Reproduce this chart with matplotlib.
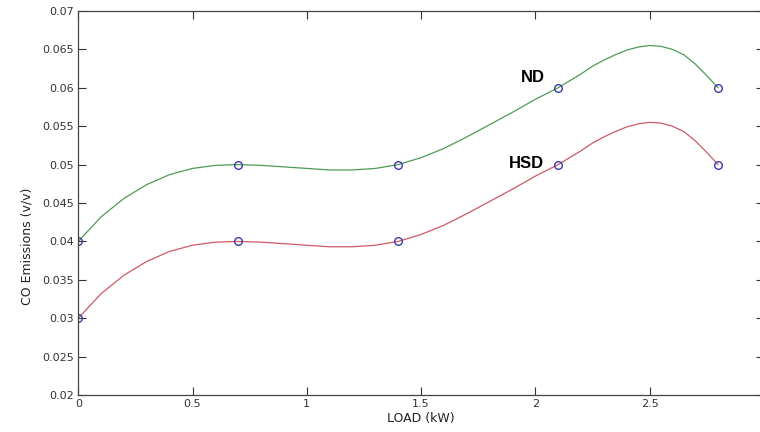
import matplotlib.pyplot as plt
from matplotlib.ticker import FormatStrFormatter

# measured points (markers)
load_kw = [0, 0.7, 1.4, 2.1, 2.8]
nd_co = [0.04, 0.05, 0.05, 0.06, 0.06]
hsd_co = [0.03, 0.04, 0.04, 0.05, 0.05]

# smooth curves (every 0.1 kW, 0.05 kW near the peak)
curve_load = [0.0, 0.1, 0.2, 0.3, 0.4, 0.5, 0.6, 0.7, 0.8, 0.9,
              1.0, 1.1, 1.2, 1.3, 1.4, 1.5, 1.6, 1.7, 1.8, 1.9,
              2.0, 2.1, 2.15, 2.2, 2.25, 2.3, 2.35, 2.4, 2.45, 2.5,
              2.55, 2.6, 2.65, 2.7, 2.75, 2.8]
nd_curve = [0.0400, 0.0432, 0.0456, 0.0474, 0.0487, 0.0495, 0.0499, 0.0500, 0.0499, 0.0497,
            0.0495, 0.0493, 0.0493, 0.0495, 0.0500, 0.0509, 0.0521, 0.0536, 0.0552, 0.0568,
            0.0585, 0.0600, 0.0609, 0.0618, 0.0628, 0.0636, 0.0643, 0.0649, 0.0653, 0.0655,
            0.0654, 0.0650, 0.0643, 0.0631, 0.0616, 0.0600]
hsd_curve = [0.0300, 0.0332, 0.0356, 0.0374, 0.0387, 0.0395, 0.0399, 0.0400, 0.0399, 0.0397,
             0.0395, 0.0393, 0.0393, 0.0395, 0.0400, 0.0409, 0.0421, 0.0436, 0.0452, 0.0468,
             0.0485, 0.0500, 0.0509, 0.0518, 0.0528, 0.0536, 0.0543, 0.0549, 0.0553, 0.0555,
             0.0554, 0.0550, 0.0543, 0.0531, 0.0516, 0.0500]

xticks = [0, 0.5, 1, 1.5, 2, 2.5, 3]
yticks = [0.02, 0.025, 0.03, 0.035, 0.04, 0.045, 0.05, 0.055, 0.06, 0.065, 0.07]

fig = plt.figure(figsize=(7.6, 4.32), dpi=100)
# the right edge of the box sits at the picture's edge, as in the original
ax = fig.add_axes([0.103, 0.0856, 0.902, 0.889])

ax.plot(curve_load, nd_curve, color='#4f9a55', lw=0.9)
ax.plot(curve_load, hsd_curve, color='#cc5a66', lw=0.9)
ax.plot(load_kw, nd_co, 'o', mfc='none', mec='#3b3ba8', ms=5.5, mew=1)
ax.plot(load_kw, hsd_co, 'o', mfc='none', mec='#3b3ba8', ms=5.5, mew=1)

ax.text(2.04, 0.0613, 'ND', ha='right', va='center', fontsize=12,
        fontweight='bold', family='Liberation Sans')
ax.text(2.04, 0.0502, 'HSD', ha='right', va='center', fontsize=12,
        fontweight='bold', family='Liberation Sans')

ax.set_xlim(0, 3)
ax.set_ylim(0.02, 0.07)
ax.set_xticks(xticks)
ax.set_yticks(yticks)
ax.xaxis.set_major_formatter(FormatStrFormatter('%g'))
ax.yaxis.set_major_formatter(FormatStrFormatter('%g'))
ax.tick_params(direction='in', length=6, width=0.8, top=True, right=True,
               labelsize=8, colors='#333333', pad=3)
for s in ax.spines.values():
    s.set_color('#444444')
    s.set_linewidth(0.9)
ax.spines['right'].set_visible(False)

ax.set_xlabel('LOAD (kW)', fontsize=9, color='#222222', labelpad=2)
ax.set_ylabel('CO Emissions (v/v)', fontsize=9, color='#222222')
ax.yaxis.set_label_coords(-0.066, 0.388)

fig.savefig('out.png', dpi=100)
